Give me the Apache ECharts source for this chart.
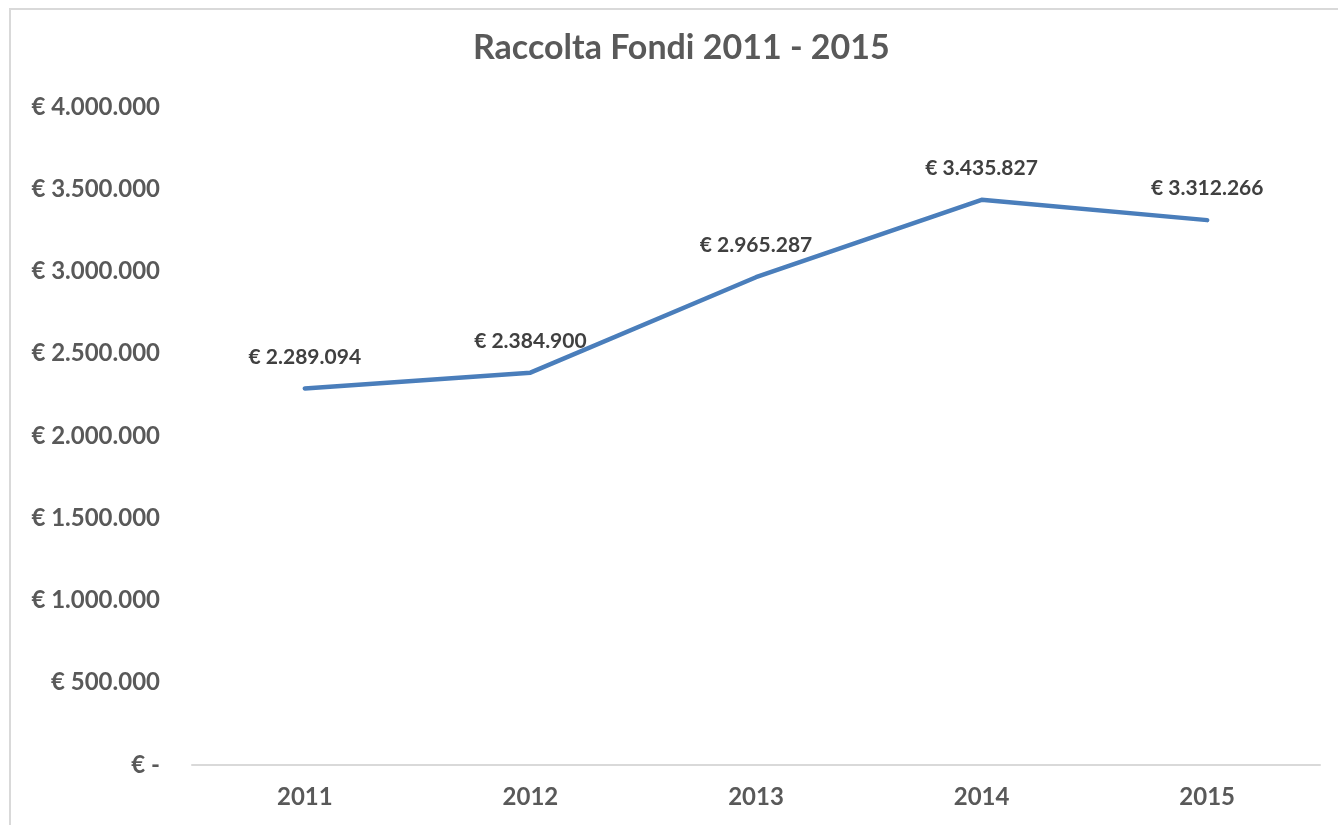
<!DOCTYPE html>
<html>
<head>
<meta charset="utf-8">
<script src="https://cdn.jsdelivr.net/npm/echarts@6/dist/echarts.min.js"></script>
<style>
  html, body { margin: 0; padding: 0; background: #fff; }
  #main { width: 1338px; height: 825px; }
</style>
</head>
<body>
<div id="main"></div>
<script>
var years = ['2011', '2012', '2013', '2014', '2015'];
var raised = [2289094, 2384900, 2965287, 3435827, 3312266];

const FONT = 'Lato, "Open Sans", sans-serif';

function euro(v) {
  if (v === 0) return '€ -';
  return '€ ' + String(v).replace(/\B(?=(\d{3})+(?!\d))/g, '.');
}

var chart = echarts.init(document.getElementById('main'));

var option = {
  animation: false,
  backgroundColor: '#fff',
  title: {
    text: 'Raccolta Fondi 2011 - 2015',
    left: 473,
    top: 31,
    padding: 0,
    textStyle: { fontFamily: FONT, fontSize: 34, fontWeight: 'bold', color: '#595959' }
  },
  graphic: [{
    type: 'polyline',
    silent: true,
    shape: { points: [[10, 830], [10, 9], [1340, 9]] },
    style: { stroke: '#d9d9d9', lineWidth: 2, fill: null }
  }],
  grid: { left: 192, right: 18, top: 107, bottom: 60 },
  xAxis: {
    type: 'category',
    data: years,
    boundaryGap: true,
    axisLine: { lineStyle: { color: '#d9d9d9', width: 2 } },
    axisTick: { show: false },
    axisLabel: { margin: 20, fontFamily: FONT, fontSize: 24, fontWeight: 'bold', color: '#595959' }
  },
  yAxis: {
    type: 'value',
    min: 0,
    max: 4000000,
    interval: 500000,
    axisLine: { show: false },
    axisTick: { show: false },
    splitLine: { show: false },
    axisLabel: { margin: 32, fontFamily: FONT, fontSize: 24, fontWeight: 'bold', color: '#595959', formatter: euro }
  },
  series: [{
    type: 'line',
    data: raised,
    symbol: 'circle',
    symbolSize: 0,
    showSymbol: true,
    lineStyle: { color: '#4a7ebb', width: 4.5, cap: 'round', join: 'round' },
    itemStyle: { color: '#4a7ebb' },
    label: {
      show: true,
      position: 'top',
      distance: 21,
      fontFamily: FONT,
      fontSize: 21,
      fontWeight: 'bold',
      color: '#404040',
      formatter: function (p) { return euro(p.value); }
    }
  }]
};

chart.setOption(option);
</script>
</body>
</html>
